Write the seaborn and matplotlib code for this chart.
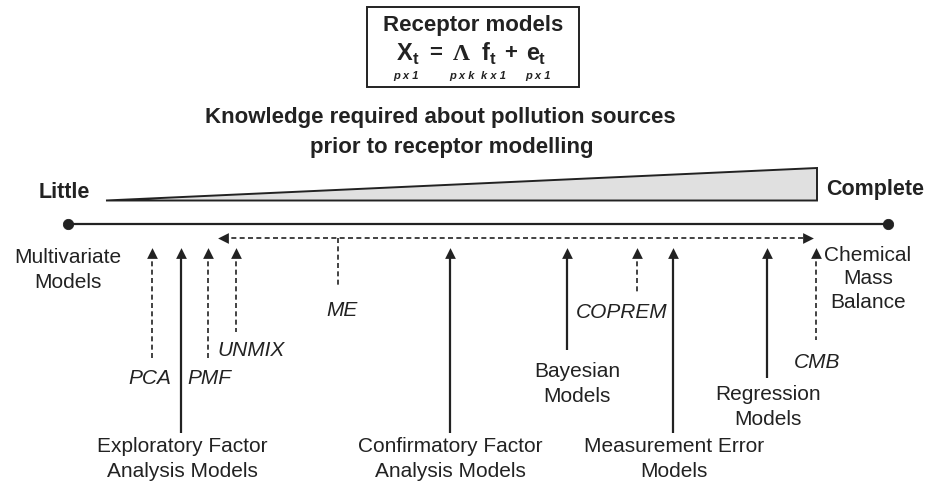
import numpy as np
import pandas as pd
import seaborn as sns
import matplotlib.pyplot as plt
from matplotlib.patches import Rectangle

# ---- data: where each approach sits on the "knowledge required" axis ----
models = ["PCA", "Exploratory Factor\nAnalysis Models", "PMF", "UNMIX",
          "Confirmatory Factor\nAnalysis Models", "Bayesian\nModels", "COPREM",
          "Measurement Error\nModels", "Regression\nModels", "CMB"]
knowledge = [152, 181, 208, 236, 450, 567, 637, 673, 767, 816]
kind = ["method", "family", "method", "method", "family",
        "family", "method", "family", "family", "method"]

me_span = [218, 813]          # ME covers this stretch of the axis
axis_ends = ["Little", "Complete"]
end_groups = ["Multivariate\nModels", "Chemical\nMass\nBalance"]

# ---- layout (pixel units, y downwards) ----
W, H = 928, 484
axis_y = 224
me_y = 238
tip_y = 248
shaft_bottom = [360, 433, 360, 332, 433, 350, 294, 433, 378, 340]
label_xy = [(150, 378), (182, 459), (209, 378), (251, 351), (450, 459),
            (577, 384), (622, 312), (674, 459), (768, 407), (817, 362)]
ink = "#222222"

sns.set_style("white")
plt.rcParams['font.family'] = ['Liberation Sans', 'DejaVu Sans']

fig = plt.figure(figsize=(W / 100, H / 100), dpi=100)
ax = fig.add_axes([0, 0, 1, 1])
ax.set_xlim(0, W)
ax.set_ylim(H, 0)
ax.axis("off")

# title box with the model equation
ax.add_patch(Rectangle((367, 7), 212, 80, fill=False, lw=1.4, ec=ink))
ax.text(473, 25, "Receptor models", ha="center", va="center",
        fontsize=16, fontweight="bold", color=ink)
eq = [("X", 397, 60, 17), ("t", 413, 64, 12), ("=", 429, 59, 16),
      ("f", 482, 60, 17), ("t", 490, 64, 12), ("+", 504, 59, 16),
      ("e", 526, 60, 17), ("t", 539, 64, 12)]
for s, x, y, fs in eq:
    ax.text(x, y, s, ha="left", va="baseline", fontsize=fs,
            fontweight="bold", color=ink)
ax.text(453, 60, "\u039b", ha="left", va="baseline", fontsize=17,
        family="Liberation Serif", fontweight="bold", color=ink)
for s, x in [("p x 1", 406), ("p x k", 462), ("k x 1", 494), ("p x 1", 538)]:
    ax.text(x, 79, s, ha="center", va="baseline", fontsize=8,
            fontstyle="italic", fontweight="bold", color=ink)

# heading
ax.text(440, 117, "Knowledge required about pollution sources", ha="center",
        va="center", fontsize=16, fontweight="bold", color=ink)
ax.text(452, 148, "prior to receptor modelling", ha="center",
        va="center", fontsize=16, fontweight="bold", color=ink)

# wedge
wedge_x = [106, 817, 817]
wedge_y = [200.5, 168, 200.5]
ax.fill(wedge_x, wedge_y, facecolor="#e0e0e0", edgecolor=ink, lw=1.4,
        joinstyle="miter")
ax.text(64, 192, axis_ends[0], ha="center", va="center", fontsize=15.5,
        fontweight="bold", color=ink)
ax.text(875, 190, axis_ends[1], ha="center", va="center", fontsize=15.5,
        fontweight="bold", color=ink)

# main axis with end dots
line_df = pd.DataFrame({"x": [68, 888], "y": [axis_y, axis_y]})
sns.lineplot(data=line_df, x="x", y="y", ax=ax, color=ink, lw=1.6,
             sort=False, estimator=None)
sns.scatterplot(data=line_df, x="x", y="y", ax=ax, color=ink, s=55,
                edgecolor=ink, zorder=5)

ax.text(68, 270, end_groups[0], ha="center", va="center", fontsize=15,
        color=ink, linespacing=1.35)
ax.text(868, 279, end_groups[1], ha="center", va="center", fontsize=15,
        color=ink, linespacing=1.3)

dash = (0, (3, 2))

# ME double-headed dashed arrow
ax.hlines(me_y, me_span[0] + 5, me_span[1] - 5, colors=ink, lw=1.2,
          linestyles=[dash])
heads = pd.DataFrame({"x": [me_span[0] + 5, me_span[1] - 5],
                      "y": [me_y, me_y], "m": ["<", ">"]})
for m, g in heads.groupby("m"):
    sns.scatterplot(data=g, x="x", y="y", ax=ax, marker=m, s=60,
                    color=ink, edgecolor=ink, lw=0, zorder=5)
ax.vlines(338, me_y, 287, colors=ink, lw=1.2, linestyles=[dash])
ax.text(342, 310, "ME", ha="center", va="center", fontsize=15,
        fontstyle="italic", color=ink)

# arrows for each model
df = pd.DataFrame({"model": models, "x": knowledge, "kind": kind,
                   "bottom": shaft_bottom})
df["tip"] = tip_y + 5
for k, g in df.groupby("kind"):
    ax.vlines(g["x"], g["tip"], g["bottom"], colors=ink,
              lw=1.2 if k == "method" else 1.6,
              linestyles=[dash] if k == "method" else "solid")
sns.scatterplot(data=df, x="x", y="tip", ax=ax, marker="^", s=60,
                color=ink, edgecolor=ink, lw=0, zorder=5)

for (name, k), (lx, ly) in zip(zip(models, kind), label_xy):
    ax.text(lx, ly, name, ha="center", va="center", fontsize=15,
            color=ink, linespacing=1.35,
            fontstyle="italic" if k == "method" else "normal")

ax.set_xlim(0, W)
ax.set_ylim(H, 0)
ax.set_xlabel("")
ax.set_ylabel("")
fig.savefig("out.png", dpi=100)
